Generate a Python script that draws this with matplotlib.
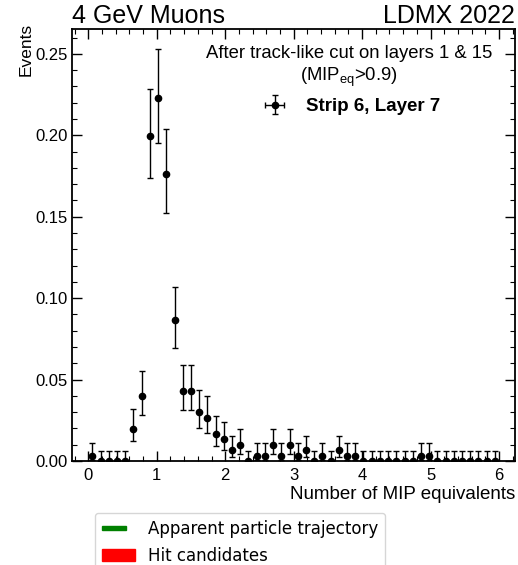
import matplotlib
matplotlib.use("Agg")
import matplotlib.pyplot as plt
import numpy as np
from matplotlib.patches import Patch, Rectangle
from matplotlib.legend_handler import HandlerPatch
from matplotlib.ticker import MultipleLocator

# Histogram of MIP equivalents, 50 bins between 0 and 6
bin_lo = 0.0
bin_hi = 6.0
n_bins = 50
counts = [1, 0, 0, 0, 0, 6, 12, 60, 67, 53,
          26, 13, 13, 9, 8, 5, 4, 2, 3, 0,
          1, 1, 3, 1, 3, 1, 2, 0, 1, 0,
          2, 1, 1, 0, 0, 0, 0, 0, 0, 0,
          1, 1, 0, 0, 0, 0, 0, 0, 0, 0]

# Garwood 68% Poisson intervals (lower, upper) for the counts used
poisson_interval = {
    0: (0.0, 1.841), 1: (0.173, 3.300), 2: (0.708, 4.638), 3: (1.367, 5.918),
    4: (2.086, 7.163), 5: (2.846, 8.375), 6: (3.625, 9.576), 8: (5.236, 11.94),
    9: (6.061, 13.10), 12: (8.589, 16.55), 13: (9.445, 17.69), 26: (20.94, 32.16),
    53: (45.75, 61.32), 60: (52.28, 68.79), 67: (58.84, 76.22),
}

top_left_text = "4 GeV Muons"
top_right_text = "LDMX 2022"
legend_title = "After track-like cut on layers 1 & 15\n(MIP$_\\mathregular{eq}$>0.9)"
series_label = "Strip 6, Layer 7"
bottom_labels = ["Apparent particle trajectory", "Hit candidates"]

plt.rcParams['font.family'] = ['Liberation Sans', 'DejaVu Sans']

edges = np.linspace(bin_lo, bin_hi, n_bins + 1)
centers = 0.5 * (edges[1:] + edges[:-1])
counts = np.array(counts)
total = counts.sum()
values = counts / total
err_lo = np.array([c - poisson_interval[c][0] for c in counts]) / total
err_hi = np.array([poisson_interval[c][1] - c for c in counts]) / total

fig = plt.figure(figsize=(5.18, 5.65), dpi=100)
ax = fig.add_axes([0.1396, 0.184, 0.8546, 0.764])

ax.errorbar(centers, values, yerr=[err_lo, err_hi], fmt='o', color='black',
            markersize=4.5, elinewidth=1.0, capsize=2.2, capthick=1.0)

ax.set_xlim(-0.234, 6.234)
ax.set_ylim(0, 0.265)
ax.xaxis.set_major_locator(MultipleLocator(1))
ax.xaxis.set_minor_locator(MultipleLocator(0.2))
ax.yaxis.set_major_locator(MultipleLocator(0.05))
ax.yaxis.set_minor_locator(MultipleLocator(0.01))
ax.tick_params(which='both', direction='in', top=True, right=True, labelsize=12)
ax.tick_params(which='major', length=7.2, width=1.0)
ax.tick_params(which='minor', length=3.6, width=0.8)
ax.tick_params(axis='x', pad=5)
for s in ax.spines.values():
    s.set_linewidth(1.3)

ax.set_xlabel("Number of MIP equivalents", loc='right', fontsize=13.5, labelpad=2)
ax.set_ylabel("Events", loc='top', fontsize=12.5, labelpad=5)
ax.yaxis.set_label_coords(-0.087, 1.015, transform=ax.transAxes)

ax.text(0.0, 1.004, top_left_text, transform=ax.transAxes, ha='left', va='bottom', fontsize=18)
ax.text(1.0, 1.004, top_right_text, transform=ax.transAxes, ha='right', va='bottom', fontsize=18)

# legend handle with both x and y error bars
h = ax.errorbar([np.nan], [np.nan], xerr=[0.1], yerr=[0.1], fmt='o', color='black',
                markersize=4.5, elinewidth=1.0, capsize=2.2)
leg = ax.legend([h], [series_label], title=legend_title, loc='upper right',
                bbox_to_anchor=(1.0, 1.015),
                frameon=False, prop={'weight': 'bold', 'size': 13.5},
                title_fontsize=13.3, handlelength=1.7, borderaxespad=0.8)
leg.get_title().set_multialignment('center')

# figure legend below the axes
green_handle = Patch(color='green')
red_handle = Patch(color='red')


def thin_patch(legend, orig_handle, xdescent, ydescent, width, height, fontsize):
    return Rectangle((-xdescent, -ydescent + 0.33 * height), 0.72 * width, 0.34 * height)


fig.legend([green_handle, red_handle], bottom_labels, loc='upper left',
           bbox_to_anchor=(95 / 518, 1 - 513 / 565), borderaxespad=0,
           prop={'family': 'DejaVu Sans', 'size': 12}, labelspacing=0.55,
           handler_map={green_handle: HandlerPatch(patch_func=thin_patch)})

fig.savefig("out.png", dpi=100)
